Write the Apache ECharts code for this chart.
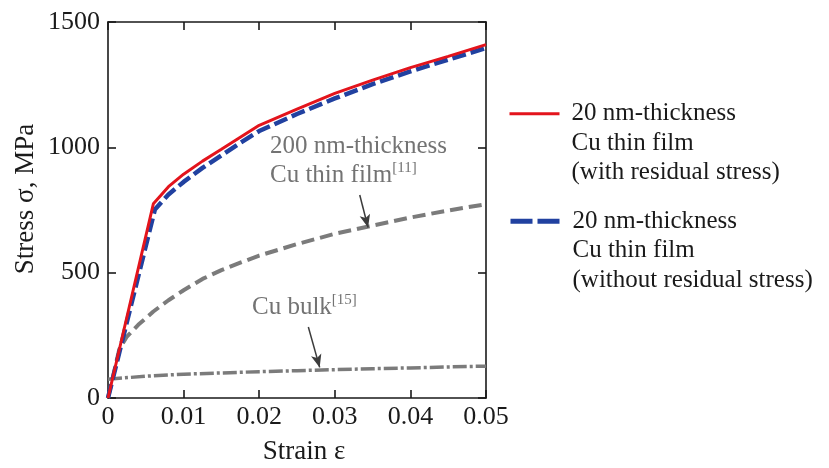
<!DOCTYPE html>
<html>
<head>
<meta charset="utf-8">
<script src="https://cdn.jsdelivr.net/npm/echarts@6/dist/echarts.min.js"></script>
<style>
html,body{margin:0;padding:0;background:#fff;}
#c{width:829px;height:468px;}
</style>
</head>
<body>
<div id="c"></div>
<script>
// ---- data ----
const xTicks = [0, 0.01, 0.02, 0.03, 0.04, 0.05];
const yTicks = [0, 500, 1000, 1500];

const withResidual = [
  [0,0],[0.006,775],[0.008,843],[0.01,893],[0.0125,945],[0.015,992],[0.0175,1040],[0.02,1088],
  [0.025,1152],[0.03,1215],[0.035,1268],[0.04,1318],[0.045,1363],[0.05,1410]
];
const withoutResidual = [
  [0,0],[0.0062,752],[0.008,812],[0.01,862],[0.0125,918],[0.015,968],[0.0175,1018],[0.02,1065],
  [0.025,1133],[0.03,1195],[0.035,1252],[0.04,1303],[0.045,1350],[0.05,1396]
];
const film200 = [
  [0,0],[0.0015,195],[0.0025,245],[0.004,292],[0.006,345],[0.008,390],[0.01,430],[0.0125,475],
  [0.015,510],[0.0175,540],[0.02,568],[0.025,614],[0.03,655],[0.035,688],[0.04,720],[0.045,748],[0.05,773]
];
const cuBulk = [
  [0,75],[0.005,87],[0.01,95],[0.015,100],[0.02,105],[0.025,109],[0.03,113],[0.035,117],[0.04,120],[0.045,124],[0.05,127]
];
const arrowFilm = [[0.0333,810],[0.0344,680]];
const arrowBulk = [[0.0265,283],[0.0280,122]];

const nameWith = '20 nm-thickness\nCu thin film\n(with residual stress)';
const nameWithout = '20 nm-thickness\nCu thin film\n(without residual stress)';

const FONT = '"Liberation Serif", "Times New Roman", serif';
const INK = '#1a1a1a';
const GRAY = '#7b7b7b';
const RED = '#e3141c';
const BLUE = '#2141a0';

const chart = echarts.init(document.getElementById('c'), null, {renderer:'canvas'});

const axisLineStyle = {color: INK, width: 1.6};

function legendOf(name, top, dash) {
  return {
    data: [name], orient: 'vertical', left: 508, top: top, padding: 0,
    itemWidth: 50, itemHeight: 14, itemGap: 0, selectedMode: false,
    itemStyle: {opacity: 0},
    lineStyle: dash ? {type: dash, width: 5} : {width: 3},
    formatter: n => '\n\n' + n,
    textStyle: {fontFamily: FONT, fontSize: 25, color: INK, lineHeight: 29.5, padding: [0,0,0,7]}
  };
}

const option = {
  animation: false,
  backgroundColor: '#ffffff',
  textStyle: {fontFamily: FONT},
  grid: {left: 108, right: 343, top: 22, bottom: 70, containLabel: false, outerBoundsMode: 'none'},
  xAxis: [
    {
      type: 'value', min: 0, max: 0.05, interval: 0.01, position: 'bottom',
      name: 'Strain ε', nameLocation: 'middle', nameGap: 40,
      nameTextStyle: {fontFamily: FONT, fontSize: 27, color: INK, padding: [0,0,0,14]},
      axisLine: {show: true, onZero: false, lineStyle: axisLineStyle},
      axisTick: {show: true, inside: true, length: 8, lineStyle: axisLineStyle},
      axisLabel: {show: true, margin: 6, fontFamily: FONT, fontSize: 26, color: INK,
        formatter: v => v === 0 ? '0' : v.toFixed(2)},
      splitLine: {show: false}
    },
    {
      type: 'value', min: 0, max: 0.05, interval: 0.01, position: 'top',
      axisLine: {show: true, onZero: false, lineStyle: axisLineStyle},
      axisTick: {show: true, inside: true, length: 8, lineStyle: axisLineStyle},
      axisLabel: {show: false},
      splitLine: {show: false}
    }
  ],
  yAxis: [
    {
      type: 'value', min: 0, max: 1500, interval: 500, position: 'left',
      name: 'Stress σ, MPa', nameLocation: 'middle', nameGap: 69,
      nameTextStyle: {fontFamily: FONT, fontSize: 27, color: INK, padding: [0,0,0,22]},
      axisLine: {show: true, onZero: false, lineStyle: axisLineStyle},
      axisTick: {show: true, inside: true, length: 8, lineStyle: axisLineStyle},
      axisLabel: {show: true, margin: 8, fontFamily: FONT, fontSize: 26, color: INK,
        formatter: v => String(v)},
      splitLine: {show: false}
    },
    {
      type: 'value', min: 0, max: 1500, interval: 500, position: 'right',
      axisLine: {show: true, onZero: false, lineStyle: axisLineStyle},
      axisTick: {show: true, inside: true, length: 8, lineStyle: axisLineStyle},
      axisLabel: {show: false},
      splitLine: {show: false}
    }
  ],
  legend: [
    legendOf(nameWith, 40, null),
    legendOf(nameWithout, 147.5, [22,5])
  ],
  series: [
    {
      name: 'Cu bulk', type: 'line', data: cuBulk, symbol: 'none', z: 2,
      lineStyle: {color: GRAY, width: 3.5, type: [14,3,3,3]},
      markLine: {silent: true, symbol: ['none','arrow'], symbolSize: [8,13], label: {show: false},
        lineStyle: {color: '#3c3c3c', width: 1.5, type: 'solid'},
        data: [[{coord: arrowBulk[0]}, {coord: arrowBulk[1]}]]}
    },
    {
      name: '200 nm-thickness Cu thin film', type: 'line', data: film200, symbol: 'none', z: 2,
      lineStyle: {color: GRAY, width: 4, type: [13,6]},
      markLine: {silent: true, symbol: ['none','arrow'], symbolSize: [8,13], label: {show: false},
        lineStyle: {color: '#3c3c3c', width: 1.5, type: 'solid'},
        data: [[{coord: arrowFilm[0]}, {coord: arrowFilm[1]}]]}
    },
    {
      name: nameWithout, type: 'line', data: withoutResidual, symbol: 'none', z: 3,
      itemStyle: {color: BLUE},
      lineStyle: {color: BLUE, width: 4.5, type: [14,5]}
    },
    {
      name: nameWith, type: 'line', data: withResidual, symbol: 'none', z: 4,
      itemStyle: {color: RED},
      lineStyle: {color: RED, width: 3}
    }
  ],
  graphic: [
    {
      type: 'text', left: 270, top: 134,
      style: {
        text: '{a|200 nm-thickness}\n{a|Cu thin film}{s|[11]}',
        fontFamily: FONT,
        rich: {
          a: {fontFamily: FONT, fontSize: 25, lineHeight: 29, fill: '#737373', color: '#737373'},
          s: {fontFamily: FONT, fontSize: 15, lineHeight: 15, verticalAlign: 'top', fill: '#737373', color: '#737373'}
        }
      }
    },
    {
      type: 'text', left: 252, top: 293,
      style: {
        text: '{a|Cu bulk}{s|[15]}',
        fontFamily: FONT,
        rich: {
          a: {fontFamily: FONT, fontSize: 25, lineHeight: 29, fill: '#737373', color: '#737373'},
          s: {fontFamily: FONT, fontSize: 15, lineHeight: 15, verticalAlign: 'top', fill: '#737373', color: '#737373'}
        }
      }
    }
  ]
};
chart.setOption(option);
</script>
</body>
</html>
